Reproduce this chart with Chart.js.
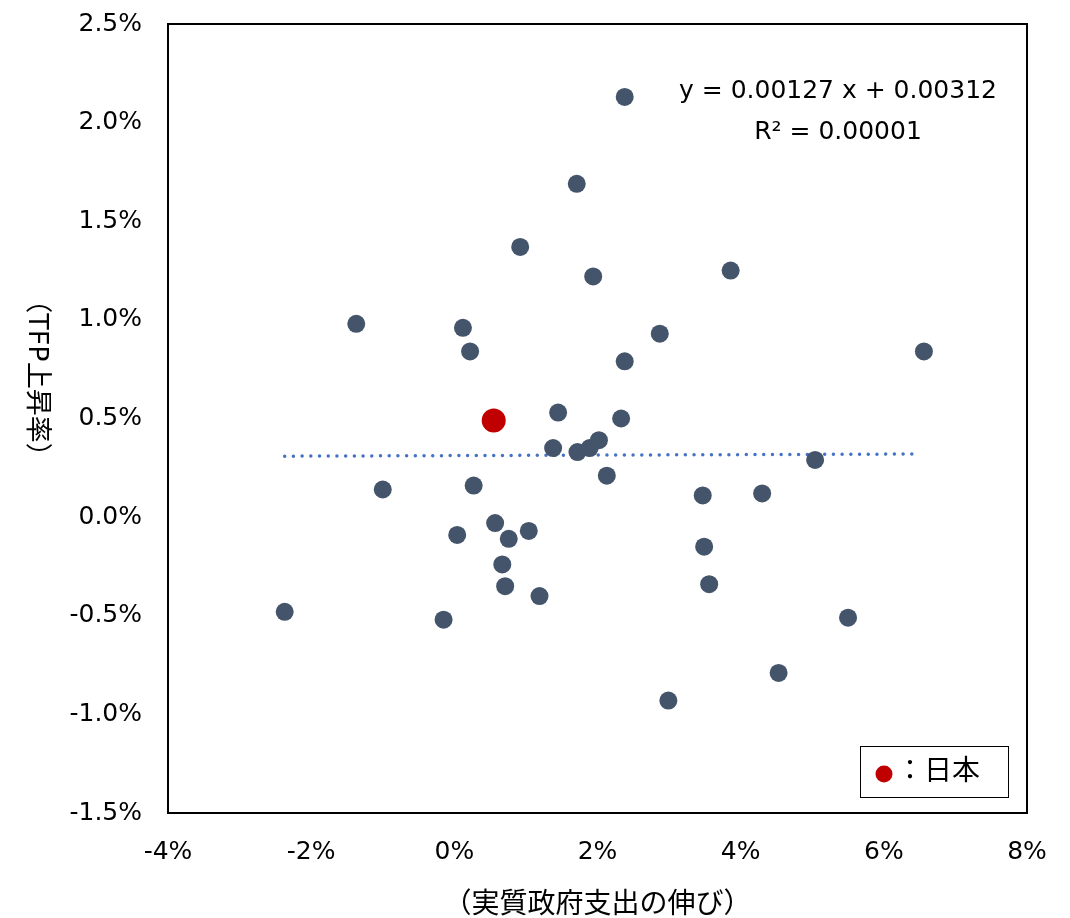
<!DOCTYPE html>
<html><head><meta charset="utf-8">
<script src="https://cdn.jsdelivr.net/npm/chart.js@4/dist/chart.umd.min.js"></script>
<style>html,body{margin:0;padding:0;background:#fff}#wrap{width:1070px;height:918px}</style>
</head><body><div id="wrap"><canvas id="c" width="1070" height="918"></canvas></div>
<script>
const countryX = [2.38,1.71,0.92,1.94,3.86,-1.37,0.12,0.22,2.87,2.38,6.56,1.45,2.33,1.38,1.72,1.89,2.02,5.04,-1.00,0.27,2.13,3.47,4.30,0.57,1.04,0.04,0.76,3.49,0.67,0.71,3.56,1.19,-2.37,-0.15,5.50,4.53,2.99];
const countryY = [2.13,1.69,1.37,1.22,1.25,0.98,0.96,0.84,0.93,0.79,0.84,0.53,0.50,0.35,0.33,0.35,0.39,0.29,0.14,0.16,0.21,0.11,0.12,-0.03,-0.07,-0.09,-0.11,-0.15,-0.24,-0.35,-0.34,-0.40,-0.48,-0.52,-0.51,-0.79,-0.93];
const japanX = [0.55];
const japanY = [0.49];
const trendX = [-2.37, 6.50];
const trendY = [0.309, 0.320];
const xTicks = [-4,-2,0,2,4,6,8];
const yTicks = [2.5,2.0,1.5,1.0,0.5,0.0,-0.5,-1.0,-1.5];
const xTitle = '（実質政府支出の伸び）';
const yTitle = '（TFP上昇率）';
const eqLine1 = 'y = 0.00127 x + 0.00312';
const eqLine2 = 'R² = 0.00001';
const legendLabel = '：日本';

const FONT = '"DejaVu Sans", "Noto Sans CJK JP", sans-serif';

const deco = {
  id: 'deco',
  afterDraw(chart) {
    const ctx = chart.ctx, a = chart.chartArea;
    ctx.save();
    ctx.strokeStyle = '#000'; ctx.lineWidth = 2;
    ctx.strokeRect(a.left, a.top, a.right - a.left, a.bottom - a.top);
    ctx.fillStyle = '#000';
    ctx.font = '25px ' + FONT;
    ctx.textAlign = 'center'; ctx.textBaseline = 'middle';
    ctx.fillText(eqLine1, 838, 91);
    ctx.fillText(eqLine2, 838, 132);
    // x title
    ctx.font = '28px ' + FONT;
    ctx.fillText(xTitle, (a.left + a.right) / 2, 906);
    // y title rotated clockwise
    ctx.save();
    ctx.font = '27px ' + FONT;
    ctx.translate(36, 378);
    ctx.rotate(Math.PI / 2);
    ctx.fillText(yTitle, 0, 0);
    ctx.restore();
    // legend box
    ctx.fillStyle = '#fff';
    ctx.fillRect(860, 746, 148, 51);
    ctx.strokeStyle = '#000'; ctx.lineWidth = 1;
    ctx.strokeRect(860.5, 746.5, 148, 51);
    ctx.fillStyle = '#C00000';
    ctx.beginPath(); ctx.arc(884, 774, 8.5, 0, Math.PI * 2); ctx.fill();
    ctx.fillStyle = '#000';
    ctx.textAlign = 'left';
    ctx.font = '28px ' + FONT;
    ctx.fillText(legendLabel, 896, 773);
    ctx.restore();
  }
};

new Chart(document.getElementById('c'), {
  type: 'scatter',
  data: {
    datasets: [
      {
        label: 'trend', type: 'line',
        data: trendX.map((x, i) => ({x, y: trendY[i]})),
        borderColor: '#4472C4', borderWidth: 3.5, borderDash: [0.01, 8.7], borderCapStyle: 'round',
        pointRadius: 0, fill: false, order: 3
      },
      {
        label: 'countries',
        data: countryX.map((x, i) => ({x, y: countryY[i]})),
        backgroundColor: '#44546A', borderColor: '#44546A', pointRadius: 9, pointBorderWidth: 0, order: 2
      },
      {
        label: 'Japan',
        data: japanX.map((x, i) => ({x, y: japanY[i]})),
        backgroundColor: '#C00000', borderColor: '#C00000', pointRadius: 12, pointBorderWidth: 0, order: 1
      }
    ]
  },
  options: {
    responsive: false, animation: false,
    layout: { padding: { top: 24, right: 43, left: 0, bottom: 0 } },
    plugins: { legend: { display: false }, tooltip: { enabled: false } },
    scales: {
      x: {
        type: 'linear', min: -4, max: 8,
        afterBuildTicks: s => { s.ticks = xTicks.map(v => ({value: v})); },
        afterFit: s => { s.height = 105; s.paddingLeft = 0; s.paddingRight = 0; },
        grid: { display: false, drawTicks: false },
        border: { display: false },
        ticks: { color: '#000', font: { family: FONT, size: 25 }, padding: 24, callback: v => v + '%' }
      },
      y: {
        type: 'linear', min: -1.5, max: 2.5,
        afterBuildTicks: s => { s.ticks = yTicks.map(v => ({value: v})); },
        afterFit: s => { s.width = 168; s.paddingTop = 0; s.paddingBottom = 0; },
        grid: { display: false, drawTicks: false },
        border: { display: false },
        ticks: { color: '#000', font: { family: FONT, size: 25 }, padding: 26, callback: v => v.toFixed(1) + '%' }
      }
    }
  },
  plugins: [deco]
});
</script></body></html>
